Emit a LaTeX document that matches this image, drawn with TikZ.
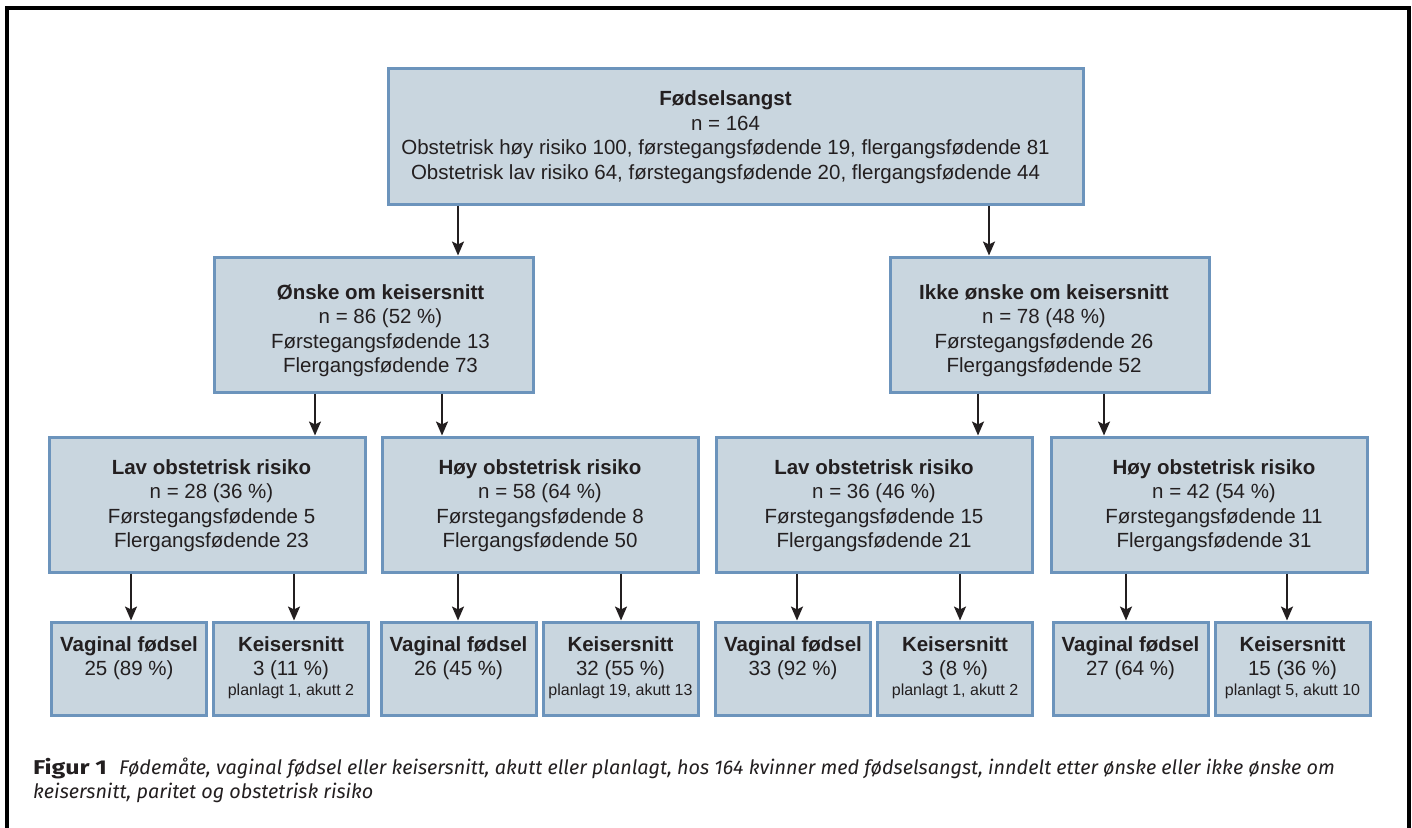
\documentclass[tikz,border=0pt]{standalone}
\usepackage{graphicx}
\usepackage{fontspec}
\setmainfont{Liberation Sans}
\newfontfamily\capfont{Fira Sans}
\usetikzlibrary{arrows.meta}
\definecolor{boxfill}{HTML}{C9D6DF}
\definecolor{boxline}{HTML}{6C94BC}
\definecolor{txt}{HTML}{231F20}
\tikzset{
  box/.style={draw=boxline, fill=boxfill, line width=3pt, inner sep=0pt},
  boxA/.style={box, minimum width=695pt, minimum height=136pt},
  boxB/.style={box, minimum width=319pt, minimum height=135pt},
  boxC/.style={box, minimum width=316pt, minimum height=135pt},
  boxD/.style={box, minimum width=155pt, minimum height=93pt},
  btext/.style={inner sep=0pt, align=center, text=txt, font=\fontsize{20.5}{24.5}\selectfont},
  dtext/.style={anchor=north, inner sep=0pt, align=center, text=txt, font=\fontsize{20.5}{24}\selectfont},
  captext/.style={anchor=base west, inner sep=0pt, text=txt, font=\capfont\fontsize{19.8}{24}\selectfont},
  arr/.style={draw=txt, line width=2.2pt, -{Stealth[length=14pt,width=12pt,inset=3pt]}},
}
\newcommand{\smalltxt}[1]{{\fontsize{16}{19}\selectfont #1}}
\begin{document}
\begin{tikzpicture}[x=1pt,y=-1pt]
\useasboundingbox (0,0) rectangle (1412,827);
\draw[line width=3.5pt, black] (7,830) -- (7,8) -- (1409,8) -- (1409,830);

% boxes
\node[boxA] (top) at (735.5,136) {};
\node[boxB] (onske) at (373.5,324.5) {};
\node[boxB] (ikke) at (1050,324.5) {};
\node[boxC] (lav1) at (207.5,504.5) {};
\node[boxC] (hoy1) at (540,504.5) {};
\node[boxC] (lav2) at (874,504.5) {};
\node[boxC] (hoy2) at (1209,504.5) {};
\node[boxD] (v1) at (129,668.5) {};
\node[boxD] (k1) at (291,668.5) {};
\node[boxD] (v2) at (458.5,668.5) {};
\node[boxD] (k2) at (620.5,668.5) {};
\node[boxD] (v3) at (793,668.5) {};
\node[boxD] (k3) at (955,668.5) {};
\node[boxD] (v4) at (1130.5,668.5) {};
\node[boxD] (k4) at (1292.5,668.5) {};

% texts
\node[btext] (topt) at ([xshift=-10pt,yshift=-1pt]top.center) {\textbf{Fødselsangst}\\ n = 164\\ Obstetrisk høy risiko 100, førstegangsfødende 19, flergangsfødende 81\\ Obstetrisk lav risiko 64, førstegangsfødende 20, flergangsfødende 44};
\node[btext] (onsket) at ([xshift=7pt,yshift=-6pt]onske.center) {\textbf{Ønske om keisersnitt}\\ n = 86 (52 \%)\\ Førstegangsfødende 13\\ Flergangsfødende 73};
\node[btext] (ikket) at ([xshift=-6pt,yshift=-6pt]ikke.center) {\textbf{Ikke ønske om keisersnitt}\\ n = 78 (48 \%)\\ Førstegangsfødende 26\\ Flergangsfødende 52};
\node[btext] (lav1t) at ([xshift=4pt,yshift=-1pt]lav1.center) {\textbf{Lav obstetrisk risiko}\\ n = 28 (36 \%)\\ Førstegangsfødende 5\\ Flergangsfødende 23};
\node[btext] (hoy1t) at ([yshift=-1pt]hoy1.center) {\textbf{Høy obstetrisk risiko}\\ n = 58 (64 \%)\\ Førstegangsfødende 8\\ Flergangsfødende 50};
\node[btext] (lav2t) at ([yshift=-1pt]lav2.center) {\textbf{Lav obstetrisk risiko}\\ n = 36 (46 \%)\\ Førstegangsfødende 15\\ Flergangsfødende 21};
\node[btext] (hoy2t) at ([xshift=5pt,yshift=-1pt]hoy2.center) {\textbf{Høy obstetrisk risiko}\\ n = 42 (54 \%)\\ Førstegangsfødende 11\\ Flergangsfødende 31};

\node[dtext] (v1t) at ([yshift=-16pt]v1.north) {\textbf{Vaginal fødsel}\\ 25 (89 \%)};
\node[dtext] (k1t) at ([yshift=-16pt]k1.north) {\textbf{Keisersnitt}\\ 3 (11 \%)\\[-4pt] \smalltxt{planlagt 1, akutt 2}};
\node[dtext] (v2t) at ([yshift=-16pt]v2.north) {\textbf{Vaginal fødsel}\\ 26 (45 \%)};
\node[dtext] (k2t) at ([yshift=-16pt]k2.north) {\textbf{Keisersnitt}\\ 32 (55 \%)\\[-4pt] \smalltxt{planlagt 19, akutt 13}};
\node[dtext] (v3t) at ([yshift=-16pt]v3.north) {\textbf{Vaginal fødsel}\\ 33 (92 \%)};
\node[dtext] (k3t) at ([yshift=-16pt]k3.north) {\textbf{Keisersnitt}\\ 3 (8 \%)\\[-4pt] \smalltxt{planlagt 1, akutt 2}};
\node[dtext] (v4t) at ([yshift=-16pt]v4.north) {\textbf{Vaginal fødsel}\\ 27 (64 \%)};
\node[dtext] (k4t) at ([yshift=-16pt]k4.north) {\textbf{Keisersnitt}\\ 15 (36 \%)\\[-4pt] \smalltxt{planlagt 5, akutt 10}};

% arrow x positions
\coordinate (a1) at (458,0);
\coordinate (a2) at (989,0);
\coordinate (b1) at (315,0);
\coordinate (b2) at (442,0);
\coordinate (b3) at (978,0);
\coordinate (b4) at (1104,0);
\coordinate (c1) at (131,0);
\coordinate (c2) at (294,0);
\coordinate (c3) at (458,0);
\coordinate (c4) at (621,0);
\coordinate (c5) at (797,0);
\coordinate (c6) at (960,0);
\coordinate (c7) at (1126,0);
\coordinate (c8) at (1287,0);

\draw[arr] (top.south -| a1) -- (onske.north -| a1);
\draw[arr] (top.south -| a2) -- (ikke.north -| a2);
\draw[arr] (onske.south -| b1) -- (lav1.north -| b1);
\draw[arr] (onske.south -| b2) -- (hoy1.north -| b2);
\draw[arr] (ikke.south -| b3) -- (lav2.north -| b3);
\draw[arr] (ikke.south -| b4) -- (hoy2.north -| b4);
\draw[arr] (lav1.south -| c1) -- (v1.north -| c1);
\draw[arr] (lav1.south -| c2) -- (k1.north -| c2);
\draw[arr] (hoy1.south -| c3) -- (v2.north -| c3);
\draw[arr] (hoy1.south -| c4) -- (k2.north -| c4);
\draw[arr] (lav2.south -| c5) -- (v3.north -| c5);
\draw[arr] (lav2.south -| c6) -- (k3.north -| c6);
\draw[arr] (hoy2.south -| c7) -- (v4.north -| c7);
\draw[arr] (hoy2.south -| c8) -- (k4.north -| c8);

% caption
\node[captext] (cap1) at (33,774)
  {\scalebox{1.25}[1]{\fontsize{20}{24}\selectfont\textbf{Figur 1}}\hspace{12pt}\textit{Fødemåte, vaginal fødsel eller keisersnitt, akutt eller planlagt, hos 164 kvinner med fødselsangst, inndelt etter ønske eller ikke ønske om}};
\node[captext] (cap2) at (33,798)
  {\textit{keisersnitt, paritet og obstetrisk risiko}};
\end{tikzpicture}
\end{document}
